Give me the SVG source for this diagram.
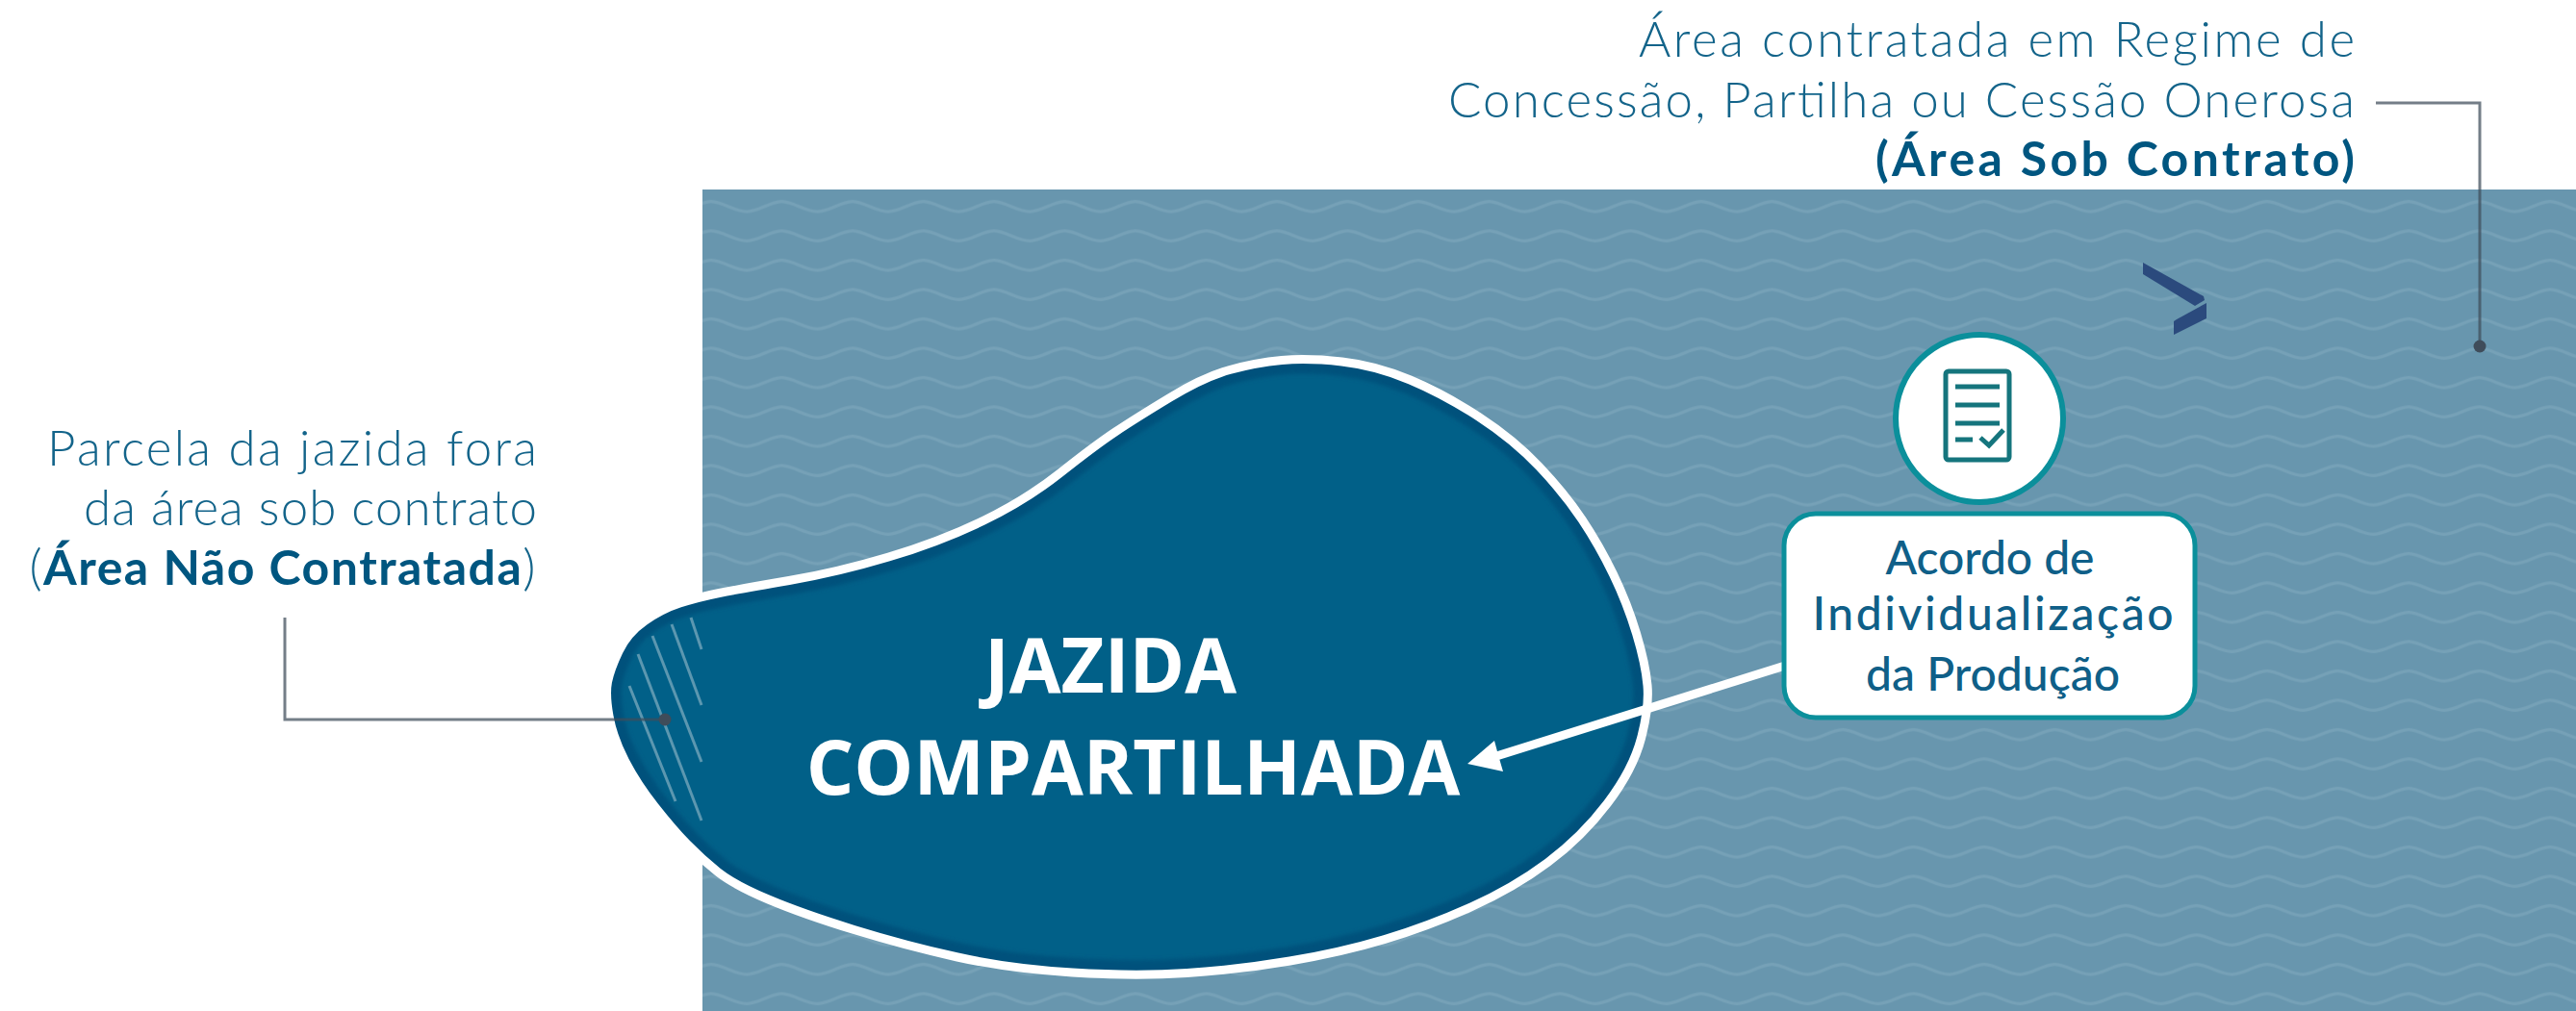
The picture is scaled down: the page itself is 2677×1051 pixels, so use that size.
<svg xmlns="http://www.w3.org/2000/svg" width="2677" height="1051" viewBox="0 0 2677 1051">
<style>
text{font-family:Lato,"Open Sans",sans-serif}
.l{font-weight:300;font-size:51px;fill:#13648a}
.b{font-weight:700;font-size:50px;fill:#005680}
.s{font-weight:700;font-size:50px;fill:#005680}
.t{font-family:"Open Sans","Noto Sans",sans-serif;font-weight:700;font-size:78px;fill:#fff;text-anchor:middle}
.a{font-weight:500;font-size:48px;fill:#0f5f88;text-anchor:middle}
.c{fill:none;stroke:#3f4c5a;stroke-width:3;stroke-opacity:.72}
.d{fill:#3f4c5a}
.ic{fill:none;stroke:#15757d;stroke-width:5}
.edge{fill:none}
</style>
<defs>
<pattern id="w" x="739" y="197" width="73.5" height="30.5" patternUnits="userSpaceOnUse">
<path d="M-1 12.5C12 12.5 24 23 37 23S61 12.5 74.5 12.5" fill="none" stroke="#76a1b7" stroke-width="3.2"/>
</pattern>
<path id="bp" d="M747.5 616.5Q770 612 820 603.5Q870 595 923.5 579Q977 563 1021.5 541.5Q1066 520 1102 491.5Q1138 463 1159 449Q1180 435 1215.5 413.5Q1251 392 1278 384.5Q1305 377 1332 374.5Q1359 372 1394.5 376Q1430 380 1465.5 395Q1501 410 1537 433.5Q1573 457 1599.5 485Q1626 513 1644 540Q1662 567 1676.5 597Q1691 627 1700.5 658.5Q1710 690 1712 712.5Q1714 735 1705.5 767.5Q1697 800 1670.5 835Q1644 870 1608.5 896.5Q1573 923 1528.5 943Q1484 963 1439 976.5Q1394 990 1340.5 999Q1287 1008 1233.5 1011.5Q1180 1015 1114.5 1011Q1049 1007 995 995Q941 983 887.5 966.5Q834 950 798.5 935Q763 920 746 906.5Q729 893 714 877.5Q699 862 680.5 838.5Q662 815 649.5 791Q637 767 633 744.5Q629 722 631.5 709Q634 696 643 677Q652 658 670 645.5Q688 633 706.5 627Q725 621 747.5 616.5Z"/>
<clipPath id="bc"><use href="#bp"/></clipPath>
<filter id="sf" x="-5%" y="-5%" width="110%" height="110%"><feGaussianBlur stdDeviation="2"/></filter>
</defs>
<g id="area-sob-contrato">
<rect x="730" y="197" width="1947" height="854" fill="#6896ae"/>
<rect x="730" y="197" width="1947" height="854" fill="url(#w)"/>
<path d="M2227 273L2290 308L2291 312L2281 318L2227 285Z" fill="#2b4a7d"/>
<path d="M2293 315V331L2259 348V334L2262 332Z" fill="#2b4a7d"/>
</g>
<g id="jazida">
<use href="#bp" fill="#016088"/>
<g clip-path="url(#bc)"><use href="#bp" class="edge" stroke="#00517b" stroke-width="30" filter="url(#sf)"/></g>
<use href="#bp" class="edge" stroke="#fff" stroke-width="9"/>
<g stroke="#5c97b0" stroke-width="3" fill="none">
<path d="M718 642L729 675"/><path d="M698 649L729 733"/><path d="M678 661L729 792"/><path d="M663 680L729 853"/><path d="M654 713L702 833"/>
</g>
<text class="t"><tspan x="1154" y="720">JAZIDA</tspan><tspan x="1177.5" y="826">COMPARTILHADA</tspan></text>
</g>
<g id="connectors">
<path d="M1855 692L1552 787" fill="none" stroke="#fff" stroke-width="9"/>
<path d="M1525 794L1553 770L1557 785L1562 802Z" fill="#fff"/>
<path class="c" d="M2469 107H2577V360"/>
<circle class="d" cx="2577" cy="360" r="6.5"/>
<path class="c" d="M296 642V748H691"/>
<circle class="d" cx="691" cy="748" r="6.5"/>
</g>
<g id="acordo-icon">
<circle cx="2057" cy="435" r="87" fill="#fff" stroke="#0b8f9b" stroke-width="6"/>
<rect x="2022" y="386" width="66" height="92" rx="3" class="ic"/>
<path class="ic" d="M2032 402H2078M2032 421H2078M2032 440H2078M2032 457H2050M2058 455L2067 463L2082 447"/>
</g>
<g id="acordo">
<rect x="1854" y="534" width="427" height="212" rx="33" fill="#fff" stroke="#0b8f9b" stroke-width="5"/>
<text class="a"><tspan x="2068" y="597" textLength="217">Acordo de</tspan><tspan x="2071" y="655" textLength="375">Individualização</tspan><tspan x="2071" y="718" textLength="264">da Produção</tspan></text>
</g>
<g id="label-area-sob-contrato" text-anchor="end">
<text class="l"><tspan x="2447" y="59" textLength="744">Área contratada em Regime de</tspan><tspan x="2447" y="122" textLength="942">Concessão, Partilha ou Cessão Onerosa</tspan><tspan class="b" x="2447" y="183" textLength="498">(Área Sob Contrato)</tspan></text>
</g>
<g id="label-area-nao-contratada" text-anchor="end">
<text class="l"><tspan x="558" y="484" textLength="509">Parcela da jazida fora</tspan><tspan x="558" y="546" textLength="471">da área sob contrato</tspan><tspan x="558" y="608" letter-spacing="1.5">(<tspan class="s">Área Não Contratada</tspan>)</tspan></text>
</g>
</svg>
